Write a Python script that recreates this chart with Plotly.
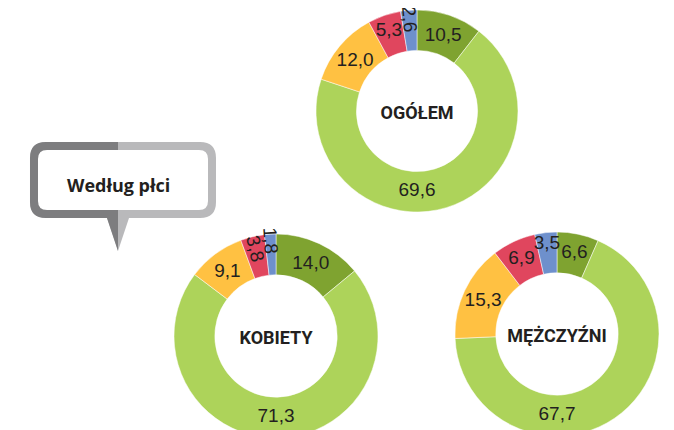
import plotly.graph_objects as go

W, H = 674, 430
OFF = 8  # page body margin offset

# ---- data ----
categories = ["kategoria 1", "kategoria 2", "kategoria 3", "kategoria 4", "kategoria 5"]
ogolem = [10.5, 69.6, 12.0, 5.3, 2.6]
kobiety = [14.0, 71.3, 9.1, 3.8, 1.8]
mezczyzni = [6.6, 67.7, 15.3, 6.9, 3.5]
titles = ["OGÓŁEM", "KOBIETY", "MĘŻCZYŹNI"]
bubble_text = "Według płci"

# ---- style ----
colors = ["#7FA330", "#ADD35A", "#FFC142", "#E0465E", "#6E90CC"]
radial_idx = [[4], [3, 4], []]  # slices whose labels are rotated
label_font = dict(family="Liberation Sans, Arial, sans-serif", size=19, color="#231F20")

# ---- layout helpers (page pixel -> paper) ----
def px(x):
    return (x - OFF) / W

def py(y):
    return 1 - (y - OFF) / H

def dom(cx, cy, r):
    return dict(x=[px(cx - r), px(cx + r)], y=[max(0, py(cy + r)), py(cy - r)])

def fmt(v):
    return f"{v:.1f}".replace(".", ",")

centers = [(417, 111, 101), (276, 336, 102), (557, 334, 102)]
series = [ogolem, kobiety, mezczyzni]

fig = go.Figure()
for vals, title, (cx, cy, r), rad_i in zip(series, titles, centers, radial_idx):
    horiz_text = ["" if i in rad_i else fmt(v) for i, v in enumerate(vals)]
    radial_text = [fmt(v) if i in rad_i else "" for i, v in enumerate(vals)]
    fig.add_trace(go.Pie(
        labels=categories,
        values=vals,
        sort=False,
        direction="clockwise",
        rotation=0,
        hole=0.6,
        marker=dict(colors=colors, line=dict(color="white", width=0.5)),
        text=horiz_text,
        textinfo="text",
        textposition="inside",
        insidetextorientation="horizontal",
        textfont=label_font,
        title=dict(text="<b>" + title + "</b>", position="middle center",
                   font=dict(family="Roboto, sans-serif", size=18, color="#231F20")),
        domain=dom(cx, cy, r),
        showlegend=False,
        hoverinfo="label+value",
    ))
    fig.add_trace(go.Pie(
        labels=categories,
        values=vals,
        sort=False,
        direction="clockwise",
        rotation=0,
        hole=0.6,
        marker=dict(colors=["rgba(0,0,0,0)"] * len(vals), line=dict(width=0)),
        text=radial_text,
        textinfo="text",
        textposition="inside",
        insidetextorientation="radial",
        textfont=label_font,
        domain=dom(cx, cy, r),
        showlegend=False,
        hoverinfo="skip",
    ))

# ---- speech bubble ----
def P(x, y):
    return f"{px(x):.5f},{py(y):.5f}"

def rrect_path(x0, y0, x1, y1, rad, tail=None):
    s = f"M {P(x0 + rad, y0)} L {P(x1 - rad, y0)} Q {P(x1, y0)} {P(x1, y0 + rad)} "
    s += f"L {P(x1, y1 - rad)} Q {P(x1, y1)} {P(x1 - rad, y1)} "
    if tail:
        xl, xr, xt, yt = tail
        s += f"L {P(xr, y1)} L {P(xt, yt)} L {P(xl, y1)} "
    s += f"L {P(x0 + rad, y1)} Q {P(x0, y1)} {P(x0, y1 - rad)} "
    s += f"L {P(x0, y0 + rad)} Q {P(x0, y0)} {P(x0 + rad, y0)} Z"
    return s

bx0, by0, bx1, by1 = 30, 142, 216, 218
split = 118
tail = (107, 129, 118, 251)
rad = 16
shapes = [
    dict(type="path", xref="paper", yref="paper",
         path=rrect_path(bx0, by0, bx1, by1, rad, tail),
         fillcolor="#B9B9BB", line=dict(width=0), layer="above"),
]
left_path = (f"M {P(split, by0)} L {P(bx0 + rad, by0)} Q {P(bx0, by0)} {P(bx0, by0 + rad)} "
             f"L {P(bx0, by1 - rad)} Q {P(bx0, by1)} {P(bx0 + rad, by1)} "
             f"L {P(tail[0], by1)} L {P(tail[2], tail[3])} Z")
shapes.append(dict(type="path", xref="paper", yref="paper", path=left_path,
                   fillcolor="#7D7D7F", line=dict(width=0), layer="above"))
shapes.append(dict(type="path", xref="paper", yref="paper",
                   path=rrect_path(bx0 + 8, by0 + 8, bx1 - 8, by1 - 8, 9),
                   fillcolor="white", line=dict(width=0), layer="above"))

fig.update_layout(
    width=W, height=H,
    margin=dict(l=0, r=0, t=0, b=0),
    paper_bgcolor="white",
    plot_bgcolor="white",
    uniformtext=dict(minsize=19, mode="show"),
    shapes=shapes,
    annotations=[dict(
        text="<b>" + bubble_text + "</b>", xref="paper", yref="paper",
        x=px(118), y=py(185), xanchor="center", yanchor="middle", showarrow=False,
        font=dict(family="Open Sans, sans-serif", size=18, color="#231F20"),
    )],
)

fig.write_html("out.html")
